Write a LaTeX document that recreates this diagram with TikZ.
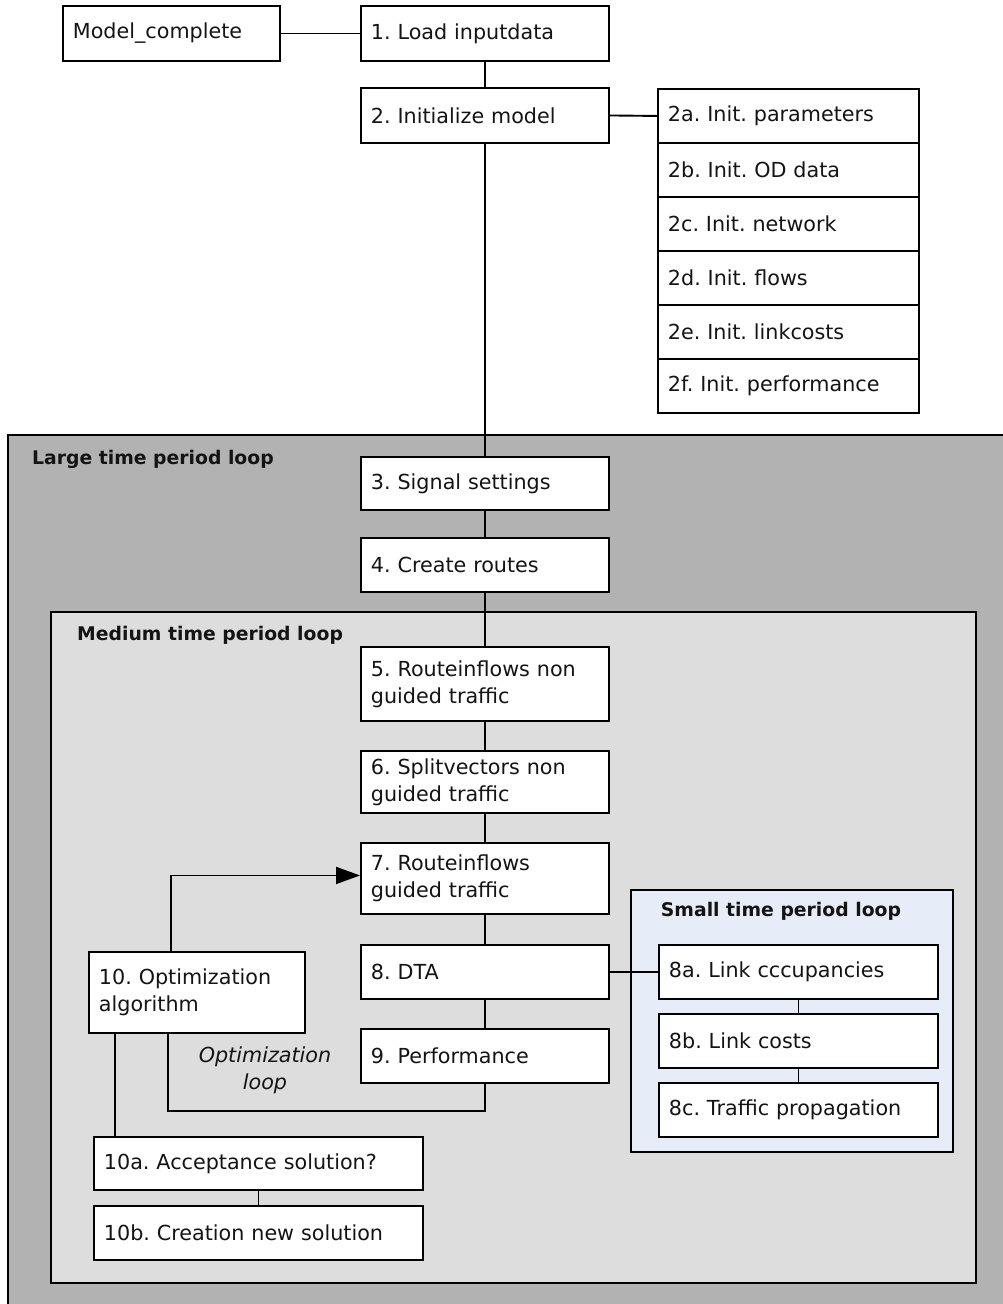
\documentclass[tikz,border=0pt]{standalone}
\usepackage{fontspec}
\setmainfont{DejaVu Sans}
\usetikzlibrary{arrows.meta,calc}
\frenchspacing
\definecolor{largegray}{RGB}{178,178,178}
\definecolor{medgray}{RGB}{221,221,221}
\definecolor{smallblue}{RGB}{231,237,248}
\definecolor{txt}{RGB}{20,20,20}
\tikzset{
  box/.style={draw=black, fill=white, line width=1.9pt, anchor=north west, align=left,
    inner xsep=10pt, inner ysep=0pt, text=txt, font=\fontsize{20.7}{27}\selectfont\frenchspacing},
  conn/.style={draw=black, line width=1.9pt},
  region/.style={draw=black, line width=1.9pt},
  looplabel/.style={anchor=west, inner sep=0pt, text=txt, font=\fontsize{18.8}{24}\selectfont\bfseries},
}
\begin{document}
\begin{tikzpicture}[x=1pt,y=-1pt]
\useasboundingbox (0,0) rectangle (1003,1304);
\clip (0,0) rectangle (1003,1304);
% regions
\draw[region, fill=largegray] (8,435) rectangle (1030,1330);
\node[looplabel] (lbllarge) at (32,459) {Large time period loop};
\draw[region, fill=medgray] (51,612) rectangle (976,1283);
\node[looplabel] (lblmed) at (77,635) {Medium time period loop};
\draw[region, fill=smallblue] (631,890) rectangle (953,1152);
\node[looplabel, anchor=center] (lblsmall) at (781,911) {Small time period loop};
% boxes
\node[box, minimum width=217pt, text width=197pt, minimum height=55pt] (mc) at (62,5) {Model\_complete};
\node[box, minimum width=248pt, text width=228pt, minimum height=55pt] (l1) at (360,5) {1. Load inputdata};
\node[box, minimum width=248pt, text width=228pt, minimum height=55pt] (in2) at (360,87) {2. Initialize model};
\node[box, minimum width=261pt, text width=241pt, minimum height=54pt] (p2a) at (657,88) {2a. Init. parameters};
\node[box, minimum width=261pt, text width=241pt, minimum height=54pt] (p2b) at (657,142) {2b. Init. OD data};
\node[box, minimum width=261pt, text width=241pt, minimum height=54pt] (p2c) at (657,196) {2c. Init. network};
\node[box, minimum width=261pt, text width=241pt, minimum height=54pt] (p2d) at (657,250) {2d. Init. flows};
\node[box, minimum width=261pt, text width=241pt, minimum height=54pt] (p2e) at (657,304) {2e. Init. linkcosts};
\node[box, minimum width=261pt, text width=241pt, minimum height=54pt] (p2f) at (657,358) {2f. Init. performance};
\node[box, minimum width=248pt, text width=228pt, minimum height=53pt] (s3) at (360,456) {3. Signal settings};
\node[box, minimum width=248pt, text width=228pt, minimum height=54pt] (cr4) at (360,537) {4. Create routes};
\node[box, minimum width=248pt, text width=228pt, minimum height=74pt] (r5) at (360,646) {5. Routeinflows non\\guided traffic};
\node[box, minimum width=248pt, text width=228pt, minimum height=62pt] (sv6) at (360,750) {6. Splitvectors non\\guided traffic};
\node[box, minimum width=248pt, text width=228pt, minimum height=71pt] (r7) at (360,842) {7. Routeinflows\\guided traffic};
\node[box, minimum width=248pt, text width=228pt, minimum height=54pt] (dta8) at (360,944) {8. DTA};
\node[box, minimum width=248pt, text width=228pt, minimum height=54pt] (perf9) at (360,1028) {9. Performance};
\node[box, minimum width=216pt, text width=196pt, minimum height=81pt] (opt10) at (88,951) {10. Optimization\\algorithm};
\node[box, minimum width=279pt, text width=259pt, minimum height=54pt] (l8a) at (658,944) {8a. Link cccupancies};
\node[box, minimum width=279pt, text width=259pt, minimum height=54pt] (l8b) at (658,1013) {8b. Link costs};
\node[box, minimum width=279pt, text width=259pt, minimum height=54pt] (l8c) at (658,1082) {8c. Traffic propagation};
\node[box, minimum width=329pt, text width=309pt, minimum height=53pt] (ac10a) at (93,1136) {10a. Acceptance solution?};
\node[box, minimum width=329pt, text width=309pt, minimum height=54pt] (cr10b) at (93,1205) {10b. Creation new solution};
\node[align=center, inner sep=0pt, text=txt, font=\fontsize{20.7}{27}\selectfont\itshape] (optloop) at (265,1070) {Optimization\\loop};
% connectors
\draw[conn] (mc.east) -- (l1.west);
\draw[conn] (l1.south) -- (in2.north);
\draw[conn] (in2.east) -- (p2a.west);
\draw[conn] (in2.south) -- (s3.north);
\draw[conn] (s3.south) -- (cr4.north);
\draw[conn] (cr4.south) -- (r5.north);
\draw[conn] (r5.south) -- (sv6.north);
\draw[conn] (sv6.south) -- (r7.north);
\draw[conn] (r7.south) -- (dta8.north);
\draw[conn] (dta8.south) -- (perf9.north);
\draw[conn] (dta8.east) -- (l8a.west);
\draw[conn] (l8a.south) -- (l8b.north);
\draw[conn] (l8b.south) -- (l8c.north);
\draw[conn] (ac10a.south) -- (cr10b.north);
\coordinate (optup) at ($(opt10.north west)+(83,0)$);
\draw[conn, -{Triangle[length=24pt,width=17pt]}] (optup) |- ($(r7.west)+(0,-3)$);
\coordinate (optdown) at ($(opt10.south west)+(80,0)$);
\coordinate (loopbottom) at ($(perf9.south)+(0,27)$);
\draw[conn] (perf9.south) -- (loopbottom) -| (optdown);
\coordinate (acc) at ($(opt10.south west)+(27,0)$);
\draw[conn] (acc) -- (acc |- ac10a.north);
\end{tikzpicture}
\end{document}
